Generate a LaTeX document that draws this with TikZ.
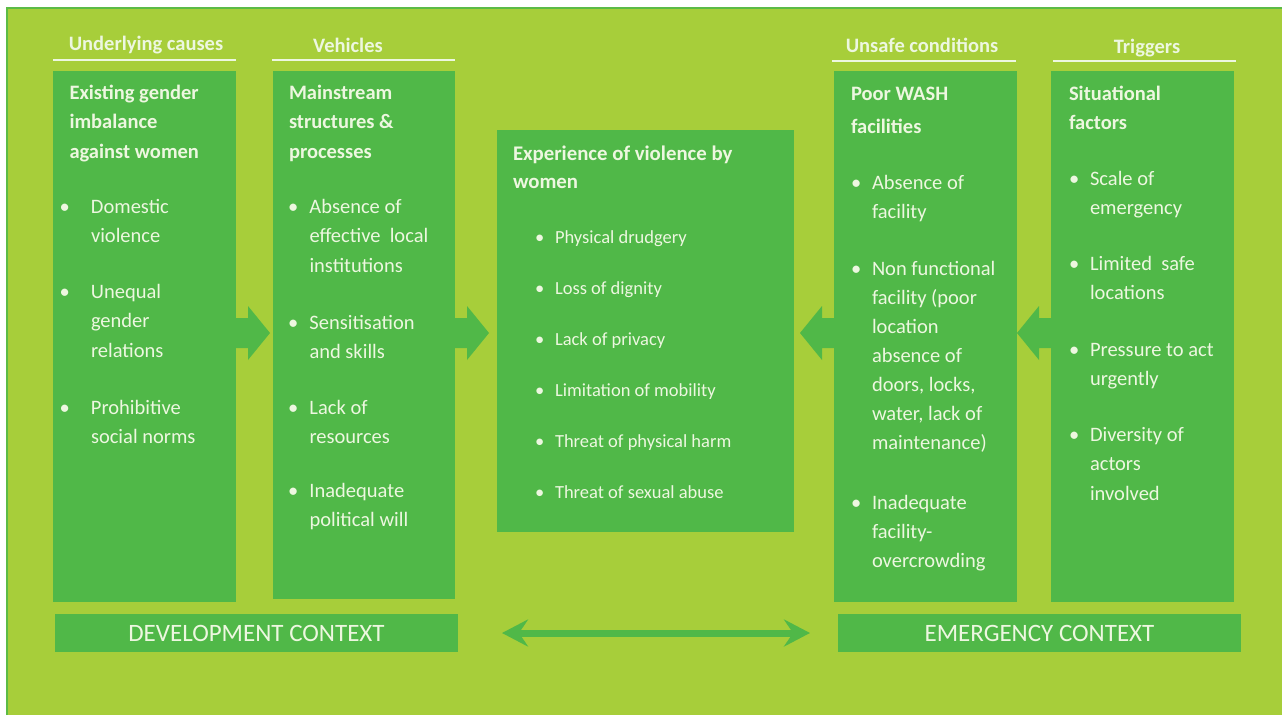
\documentclass[tikz,border=0pt]{standalone}
\usepackage{fontspec}
\setmainfont{Carlito}
\usetikzlibrary{arrows.meta,calc}
\definecolor{bg}{HTML}{A7CE3A}
\definecolor{boxg}{HTML}{50B848}
\definecolor{txt}{HTML}{EDF7E0}
\definecolor{framec}{HTML}{5CBB46}
\newcommand\ttl[2]{\parbox[t]{170pt}{\fontsize{20.5}{#1}\selectfont\bfseries #2}}
\newcommand\bul[3]{\parbox[t]{170pt}{\fontsize{20.5}{#2}\selectfont\hangindent=#1\hangafter=1\makebox[#1][l]{\textbullet}#3}}
\newcommand\cbul[1]{\makebox[20pt][l]{\textbullet}#1}
\begin{document}
\begin{tikzpicture}[x=1pt,y=-1pt,
  panel/.style={fill=boxg,draw=none,inner sep=0pt,outer sep=0pt,anchor=north west},
  txtnode/.style={text=txt,inner sep=0pt,outer sep=0pt,anchor=base west},
  head/.style={text=txt,inner sep=0pt,anchor=base,font=\fontsize{20.5}{24}\selectfont\bfseries},
  uline/.style={draw=txt,line width=2pt},
  ctx/.style={panel,text=txt,font=\fontsize{25}{29}\selectfont,minimum width=403pt,minimum height=38pt},
  rblock/.pic={\fill[boxg] (-2,-15) -- (12,-15) -- (12,-27) -- (34,0) -- (12,27) -- (12,15) -- (-2,15) -- cycle;}
]
\useasboundingbox (0,0) rectangle (1282,715);
% background and frame
\fill[white] (0,0) rectangle (1282,715);
\fill[bg] (7,8) rectangle (1282,715);
\draw[framec,line width=2pt] (7,715) -- (7,8) -- (1282,8);

% headings
\node[head] (h1) at (146,50) {Underlying causes};
\node[head] (h2) at (348,52) {Vehicles};
\node[head] (h3) at (922,52) {Unsafe conditions};
\node[head] (h4) at (1147,53) {Triggers};
\draw[uline] (53,60) -- (236,60);
\draw[uline] (272,60) -- (455,60);
\draw[uline] (832,61) -- (1016,61);
\draw[uline] (1053,61) -- (1236,61);

% panels
\node[panel,minimum width=183pt,minimum height=531pt] (c1) at (53,71) {};
\node[panel,minimum width=182pt,minimum height=528pt] (c2) at (273,71) {};
\node[panel,minimum width=297pt,minimum height=402pt] (cc) at (497,130) {};
\node[panel,minimum width=183pt,minimum height=531pt] (c3) at (834,71) {};
\node[panel,minimum width=183pt,minimum height=531pt] (c4) at (1051,71) {};

% column 1
\node[txtnode] (t1) at (69.5,99) {\ttl{29.5}{Existing gender\\imbalance\\against women}};
\node[txtnode] (b11) at (59.5,213) {\bul{31.5pt}{29.5}{Domestic\\violence}};
\node[txtnode] (b12) at (59.5,298) {\bul{31.5pt}{29.5}{Unequal\\gender\\relations}};
\node[txtnode] (b13) at (59.5,414) {\bul{31.5pt}{29.5}{Prohibitive\\social norms}};

% column 2
\node[txtnode] (t2) at (289,99) {\ttl{29.5}{Mainstream\\structures \&\\processes}};
\node[txtnode] (b21) at (288,213) {\bul{21.5pt}{29.5}{Absence of\\effective\ \ local\\institutions}};
\node[txtnode] (b22) at (288,329) {\bul{21.5pt}{29.5}{Sensitisation\\and skills}};
\node[txtnode] (b23) at (288,414) {\bul{21.5pt}{29.5}{Lack of\\resources}};
\node[txtnode] (b24) at (288,497) {\bul{21.5pt}{29.5}{Inadequate\\political will}};

% centre
\node[txtnode] (tc) at (513,160) {\parbox[t]{270pt}{\fontsize{20.8}{28}\selectfont\bfseries Experience of violence by\\women}};
\begin{scope}[every node/.style={txtnode,font=\fontsize{18.5}{22}\selectfont}]
\node (i1) at (535,243) {\cbul{Physical drudgery}};
\node (i2) at (535,294) {\cbul{Loss of dignity}};
\node (i3) at (535,345) {\cbul{Lack of privacy}};
\node (i4) at (535,396) {\cbul{Limitation of mobility}};
\node (i5) at (535,447) {\cbul{Threat of physical harm}};
\node (i6) at (535,498) {\cbul{Threat of sexual abuse}};
\end{scope}

% column 3
\node[txtnode] (t3) at (851,100) {\ttl{33}{Poor WASH\\facilities}};
\node[txtnode] (b31) at (851,189) {\bul{21pt}{29}{Absence of\\facility}};
\node[txtnode] (b32) at (851,275) {\bul{21pt}{29}{Non functional\\facility (poor\\location\\absence of\\doors, locks,\\water, lack of\\maintenance)}};
\node[txtnode] (b33) at (851,509) {\bul{21pt}{29}{Inadequate\\facility-\\overcrowding}};

% column 4
\node[txtnode] (t4) at (1069,100) {\ttl{29}{Situational\\factors}};
\node[txtnode] (b41) at (1069,185) {\bul{21pt}{29.5}{Scale of\\emergency}};
\node[txtnode] (b42) at (1069,270) {\bul{21pt}{29.5}{Limited\ \ safe\\locations}};
\node[txtnode] (b43) at (1069,356) {\bul{21pt}{29.5}{Pressure to act\\urgently}};
\node[txtnode] (b44) at (1069,441) {\bul{21pt}{29.5}{Diversity of\\actors\\involved}};

% block arrows
\coordinate (ay) at (0,333);
\pic at (c1.east |- ay) {rblock};
\pic at (c2.east |- ay) {rblock};
\pic[xscale=-1] at (c3.west |- ay) {rblock};
\pic[xscale=-1] at (c4.west |- ay) {rblock};

% context boxes
\node[ctx] (dev) at (55,614) {DEVELOPMENT CONTEXT};
\node[ctx] (emg) at (838,614) {EMERGENCY CONTEXT};
\draw[boxg,line width=7pt,{Stealth[length=26pt,width=27pt,inset=9pt]}-{Stealth[length=26pt,width=27pt,inset=9pt]},shorten <=44pt,shorten >=28pt] (dev.east) -- (emg.west);
\end{tikzpicture}
\end{document}
